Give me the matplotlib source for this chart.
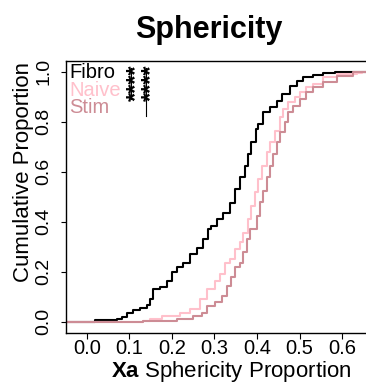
import numpy as np
import matplotlib
matplotlib.use('Agg')
import matplotlib.pyplot as plt

plt.rcParams['font.family'] = ['Liberation Sans', 'DejaVu Sans']
plt.rcParams['mathtext.fontset'] = 'custom'
plt.rcParams['mathtext.rm'] = 'Liberation Sans'
plt.rcParams['mathtext.bf'] = 'Liberation Sans:bold'

# ECDF steps: x = sphericity proportion, y = cumulative proportion
fibro_x = [0.019, 0.070, 0.082, 0.094, 0.109, 0.125, 0.141, 0.149, 0.156, 0.172,
           0.188, 0.200, 0.213, 0.227, 0.243, 0.258, 0.274, 0.285, 0.293, 0.305,
           0.321, 0.336, 0.348, 0.360, 0.372, 0.379, 0.387, 0.397, 0.403, 0.415,
           0.430, 0.446, 0.458, 0.477, 0.493, 0.508, 0.532, 0.555, 0.583]
fibro_y = [0.007, 0.013, 0.020, 0.037, 0.047, 0.055, 0.067, 0.090, 0.130, 0.140,
           0.164, 0.198, 0.220, 0.237, 0.270, 0.297, 0.330, 0.370, 0.384, 0.410,
           0.437, 0.477, 0.530, 0.578, 0.624, 0.670, 0.720, 0.770, 0.790, 0.838,
           0.858, 0.884, 0.911, 0.944, 0.964, 0.978, 0.987, 0.995, 1.000]

naive_x = [0.132, 0.149, 0.176, 0.219, 0.243, 0.266, 0.282, 0.301, 0.313, 0.325,
           0.336, 0.348, 0.360, 0.368, 0.379, 0.387, 0.395, 0.403, 0.411, 0.423,
           0.430, 0.442, 0.454, 0.462, 0.473, 0.489, 0.500, 0.516, 0.532, 0.555,
           0.587, 0.634, 0.646]
naive_y = [0.005, 0.010, 0.024, 0.037, 0.050, 0.090, 0.130, 0.164, 0.190, 0.237,
           0.250, 0.290, 0.318, 0.357, 0.410, 0.464, 0.518, 0.570, 0.624, 0.678,
           0.718, 0.764, 0.818, 0.850, 0.878, 0.898, 0.918, 0.938, 0.950, 0.978,
           0.990, 0.995, 1.000]

stim_x = [0.133, 0.211, 0.250, 0.270, 0.282, 0.301, 0.317, 0.329, 0.340, 0.348,
          0.360, 0.368, 0.376, 0.383, 0.399, 0.407, 0.415, 0.423, 0.430, 0.438,
          0.446, 0.454, 0.465, 0.473, 0.485, 0.500, 0.516, 0.532, 0.555, 0.587,
          0.626, 0.642]
stim_y = [0.004, 0.010, 0.024, 0.037, 0.064, 0.078, 0.104, 0.144, 0.178, 0.218,
          0.237, 0.278, 0.330, 0.370, 0.424, 0.478, 0.524, 0.578, 0.624, 0.670,
          0.718, 0.758, 0.800, 0.838, 0.864, 0.890, 0.918, 0.938, 0.960, 0.984,
          0.998, 1.000]

groups = ['Fibro', 'Naive', 'Stim']
colors = ['black', '#FFC0CB', '#CD8C95']
x_ticks = [0.0, 0.1, 0.2, 0.3, 0.4, 0.5, 0.6]
y_ticks = [0.0, 0.2, 0.4, 0.6, 0.8, 1.0]
stars = ['****', '****']  # Fibro vs Naive, Fibro vs Stim

fig = plt.figure(figsize=(3.66, 3.83), dpi=100)
W, H = 366.0, 383.0
# plot region runs past the right edge of the picture (cropped like the original)
ax = fig.add_axes([66 / W, 1 - 333 / H, (395 - 66) / W, (333 - 61.3) / H])

xlo, xhi = -0.0486, 0.724
for xs, ys, c in zip([fibro_x, naive_x, stim_x], [fibro_y, naive_y, stim_y], colors):
    xx = np.concatenate([[xlo - 0.1], xs, [xhi + 0.1]])
    yy = np.concatenate([[0.0], ys, [1.0]])
    ax.step(xx, yy, where='post', color=c, lw=1.5)

ax.set_xlim(xlo, xhi)
ax.set_ylim(-0.045, 1.042)
ax.spines['right'].set_visible(False)
for s in ['left', 'top', 'bottom']:
    ax.spines[s].set_linewidth(1.0)

ax.set_xticks(x_ticks)
ax.set_xticklabels(['%.1f' % v for v in x_ticks])
ax.set_yticks(y_ticks)
ax.set_yticklabels(['%.1f' % v for v in y_ticks])
ax.tick_params(axis='x', length=4.5, width=0.8, pad=-0.5, labelsize=14.5)
ax.tick_params(axis='y', length=3.6, width=0.8, pad=6, labelsize=14, labelrotation=90)
for lab in ax.get_yticklabels():
    lab.set_va('center')

# titles and axis labels
fig.text(209 / W, 1 - 38 / H, 'Sphericity', ha='center', va='baseline',
         fontsize=22, fontweight='bold')
fig.text(230.8 / W, 1 - 377 / H, r'$\mathbf{Xa}$ Sphericity Proportion',
         ha='center', va='baseline', fontsize=16)
fig.text(29.5 / W, 1 - 172.5 / H, 'Cumulative Proportion', rotation=90,
         ha='center', va='baseline', fontsize=16, rotation_mode='anchor')

# legend text
for g, c, yb in zip(groups, colors, [78, 95.5, 113]):
    fig.text(69 / W, 1 - yb / H, g, color=c, fontsize=14.5, va='baseline')

# significance brackets
fig.add_artist(plt.Line2D([131 / W, 131 / W], [1 - 68 / H, 1 - 99 / H], color='black', lw=0.8))
fig.add_artist(plt.Line2D([146 / W, 146 / W], [1 - 68 / H, 1 - 116 / H], color='black', lw=0.8))
fig.text(144 / W, 1 - 83 / H, '\n'.join(stars), rotation=90, ha='center', va='center',
         fontsize=17, fontweight='bold', linespacing=0.55)

fig.savefig('out.png', dpi=100)
